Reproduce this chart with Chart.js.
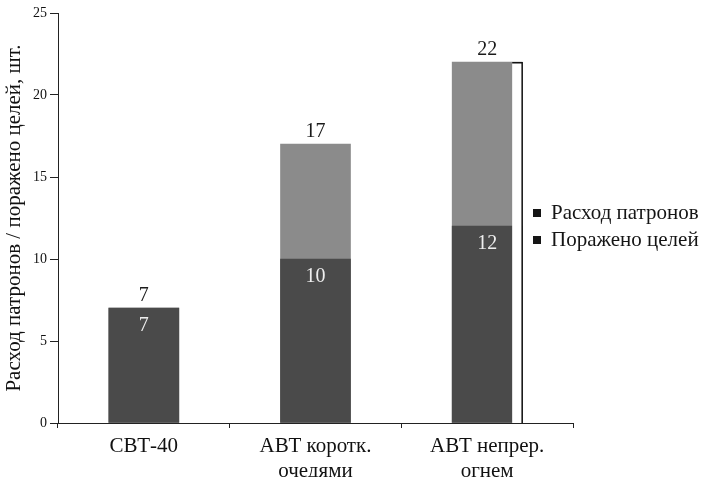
<!DOCTYPE html>
<html>
<head>
<meta charset="utf-8">
<script src="https://cdn.jsdelivr.net/npm/chart.js@4.4.1/dist/chart.umd.min.js"></script>
<style>
  body { margin: 0; background: #fff; }
  canvas { display: block; }
</style>
</head>
<body>
<canvas id="chartShots" width="709" height="477"></canvas>
<script>
// категории и значения
const categories = ['СВТ-40', ['АВТ коротк.', 'очедями'], ['АВТ непрер.', 'огнем']];
const shotsUsed = [7, 17, 22];   // Расход патронов
const targetsHit = [7, 10, 12];  // Поражено целей
const yTicks = [0, 5, 10, 15, 20, 25];

const SERIF = '"Liberation Serif", "DejaVu Serif", serif';

// подписи значений: итог над столбцом, число поражённых внутри тёмной части
const valueLabels = {
  id: 'valueLabels',
  afterDatasetsDraw(chart) {
    const ctx = chart.ctx;
    const shotsMeta = chart.getDatasetMeta(0);
    const hitMeta = chart.getDatasetMeta(1);
    ctx.save();
    ctx.font = '20px ' + SERIF;
    ctx.textAlign = 'center';
    ctx.textBaseline = 'middle';
    shotsMeta.data.forEach((bar, i) => {
      ctx.fillStyle = '#1a1a1a';
      ctx.fillText(String(shotsUsed[i]), bar.x, bar.y - 12);
      const hb = hitMeta.data[i];
      ctx.fillStyle = '#eeeeee';
      ctx.fillText(String(targetsHit[i]), hb.x, hb.y + 18);
    });
    // белая полоса с рамкой справа от последнего столбца (как в оригинале)
    const last = shotsMeta.data[shotsMeta.data.length - 1];
    const right = last.x + last.width / 2;
    const bottom = chart.scales.y.getPixelForValue(0);
    ctx.fillStyle = '#fff';
    ctx.fillRect(right - 10, last.y, 10, bottom - last.y);
    ctx.strokeStyle = '#111';
    ctx.lineWidth = 1.5;
    ctx.beginPath();
    ctx.moveTo(right - 10, last.y + 0.5);
    ctx.lineTo(right, last.y + 0.5);
    ctx.lineTo(right, bottom);
    ctx.stroke();
    ctx.restore();
  }
};

// легенда справа от графика
const sideLegend = {
  id: 'sideLegend',
  afterDraw(chart) {
    const ctx = chart.ctx;
    const x = chart.chartArea.right - 40;
    ctx.save();
    ctx.font = '21px ' + SERIF;
    ctx.textBaseline = 'middle';
    chart.data.datasets.forEach((ds, i) => {
      const y = 213 + i * 27;
      ctx.fillStyle = '#151515';
      ctx.fillRect(x, y - 4, 8, 8);
      ctx.fillText(ds.label, x + 18, y);
    });
    ctx.restore();
  }
};

new Chart(document.getElementById('chartShots'), {
  type: 'bar',
  data: {
    labels: categories,
    datasets: [
      {
        label: 'Расход патронов',
        data: shotsUsed,
        backgroundColor: '#8b8b8b',
        barThickness: 70,
        order: 2 // рисуется позади
      },
      {
        label: 'Поражено целей',
        data: targetsHit,
        backgroundColor: '#4a4a4a',
        barThickness: 70,
        order: 1 // поверх светлого столбца
      }
    ]
  },
  options: {
    responsive: false,
    animation: false,
    layout: { padding: { top: 13, right: 136, left: 0, bottom: 0 } },
    plugins: {
      legend: { display: false },
      tooltip: { enabled: false }
    },
    scales: {
      x: {
        stacked: true,
        grid: {
          offset: true,
          drawOnChartArea: false,
          tickLength: 5,
          color: '#222'
        },
        border: { color: '#222', width: 1 },
        ticks: {
          color: '#111',
          font: { family: SERIF, size: 21 },
          padding: 6,
          maxRotation: 0
        },
        afterFit(scale) { scale.height = 54; }
      },
      y: {
        stacked: false,
        min: 0,
        max: 25,
        afterBuildTicks(scale) { scale.ticks = yTicks.map(v => ({ value: v })); },
        grid: {
          drawOnChartArea: false,
          tickLength: 8,
          color: '#222'
        },
        border: { color: '#222', width: 1 },
        ticks: {
          color: '#111',
          font: { family: SERIF, size: 14 },
          padding: 3
        },
        title: {
          display: true,
          text: 'Расход патронов / поражено целей, шт.',
          color: '#111',
          font: { family: SERIF, size: 21 },
          padding: { top: 2, bottom: 0 }
        },
        afterFit(scale) { scale.width = 58; }
      }
    }
  },
  plugins: [valueLabels, sideLegend]
});
</script>
</body>
</html>
